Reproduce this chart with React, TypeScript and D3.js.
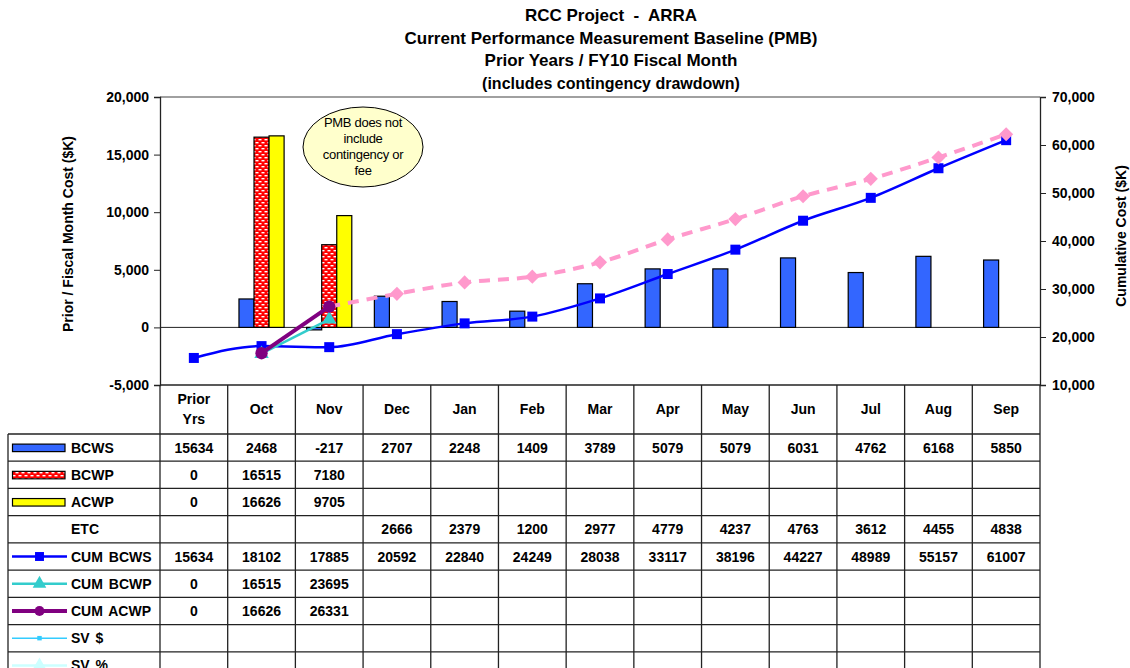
import { useEffect, useRef } from "react";
import * as d3 from "d3";

const categories = ["Prior Yrs", "Oct", "Nov", "Dec", "Jan", "Feb", "Mar", "Apr", "May", "Jun", "Jul", "Aug", "Sep"];
const bcws = [15634, 2468, -217, 2707, 2248, 1409, 3789, 5079, 5079, 6031, 4762, 6168, 5850];
const bcwp = [0, 16515, 7180, null, null, null, null, null, null, null, null, null, null];
const acwp = [0, 16626, 9705, null, null, null, null, null, null, null, null, null, null];
const etc = [null, null, null, 2666, 2379, 1200, 2977, 4779, 4237, 4763, 3612, 4455, 4838];
const cumBcws = [15634, 18102, 17885, 20592, 22840, 24249, 28038, 33117, 38196, 44227, 48989, 55157, 61007];
const cumBcwp = [0, 16515, 23695, null, null, null, null, null, null, null, null, null, null];
const cumAcwp = [0, 16626, 26331, null, null, null, null, null, null, null, null, null, null];
const cumEac = [null, null, 26331, 28997, 31376, 32576, 35553, 40332, 44569, 49332, 52944, 57399, 62237];
const svDollar: (number | null)[] = [];
const svPercent: (number | null)[] = [];

const leftTicks = [-5000, 0, 5000, 10000, 15000, 20000];
const rightTicks = [10000, 20000, 30000, 40000, 50000, 60000, 70000];

const titleLines = [
  "RCC Project  -  ARRA",
  "Current Performance Measurement Baseline (PMB)",
  "Prior Years / FY10 Fiscal Month",
  "(includes contingency drawdown)",
];
const calloutLines = ["PMB does not", "include", "contingency or", "fee"];

const tableRows = [
  { label: "BCWS", values: bcws },
  { label: "BCWP", values: bcwp },
  { label: "ACWP", values: acwp },
  { label: "ETC", values: etc },
  { label: "CUM BCWS", values: cumBcws },
  { label: "CUM BCWP", values: cumBcwp },
  { label: "CUM ACWP", values: cumAcwp },
  { label: "SV $", values: svDollar },
  { label: "SV %", values: svPercent },
];

const W = 1130;
const H = 668;
const FONT = "Arial, 'Liberation Sans', sans-serif";

export default function App() {
  const ref = useRef<SVGSVGElement>(null);

  useEffect(() => {
    if (!ref.current) return;
    const svg = d3.select(ref.current);
    svg.selectAll("*").remove();

    const left = 160, right = 1040, top = 97, bottom = 385;
    const x = d3.scaleBand<string>().domain(categories).range([left, right]);
    const bw = x.bandwidth();
    const xs = d3.scaleBand<string>().domain(["BCWS", "BCWP", "ACWP"]).range([bw / 6, (bw * 5) / 6]);
    const yL = d3.scaleLinear().domain([-5000, 20000]).range([bottom, top]);
    const yR = d3.scaleLinear().domain([10000, 70000]).range([bottom, top]);
    const cx = (i: number) => (x(categories[i]) as number) + bw / 2;
    const fmt = d3.formatLocale({ decimal: ".", thousands: ",", grouping: [3], currency: ["$", ""], minus: "-" }).format(",");

    // pattern for BCWP
    const defs = svg.append("defs");
    const pat = defs.append("pattern").attr("id", "bcwpPat").attr("patternUnits", "userSpaceOnUse")
      .attr("width", 6).attr("height", 6);
    pat.append("rect").attr("width", 6).attr("height", 6).attr("fill", "#FF0000");
    pat.append("rect").attr("x", 0.5).attr("y", 1).attr("width", 3).attr("height", 1.4).attr("fill", "#fff");
    pat.append("rect").attr("x", 3.5).attr("y", 4).attr("width", 2.5).attr("height", 1.4).attr("fill", "#fff");
    pat.append("rect").attr("x", 0).attr("y", 4).attr("width", 0.5).attr("height", 1.4).attr("fill", "#fff");

    // title
    svg.append("g").selectAll("text").data(titleLines).join("text")
      .attr("x", 611).attr("y", (_, i) => 21 + i * 22.7)
      .attr("text-anchor", "middle")
      .style("font-family", FONT).style("font-weight", "bold").style("white-space", "pre")
      .style("font-size", (_, i) => (i === 3 ? "16px" : "17px"))
      .text((d) => d);

    // plot frame
    svg.append("line").attr("x1", left).attr("x2", right).attr("y1", top).attr("y2", top)
      .attr("stroke", "#808080").attr("stroke-width", 1.5);
    svg.append("line").attr("x1", left).attr("x2", right).attr("y1", yL(0)).attr("y2", yL(0))
      .attr("stroke", "#222").attr("stroke-width", 1);

    // axes
    const axL = svg.append("g").attr("transform", `translate(${left},0)`)
      .call(d3.axisLeft(yL).tickValues(leftTicks).tickFormat((v) => fmt(Number(v))).tickSize(6).tickPadding(5));
    const axR = svg.append("g").attr("transform", `translate(${right},0)`)
      .call(d3.axisRight(yR).tickValues(rightTicks).tickFormat((v) => fmt(Number(v))).tickSize(6).tickPadding(6));
    [axL, axR].forEach((g) => {
      g.select(".domain").attr("stroke", "#222").attr("stroke-width", 1.3);
      g.selectAll(".tick line").attr("stroke", "#222");
      g.selectAll("text").style("font-family", FONT).style("font-weight", "bold")
        .style("font-size", "14px").attr("fill", "#000");
    });

    svg.append("text").attr("transform", `translate(73,234) rotate(-90)`)
      .attr("text-anchor", "middle").style("font-family", FONT).style("font-weight", "bold")
      .style("font-size", "14px").text("Prior / Fiscal Month Cost ($K)");
    svg.append("text").attr("transform", `translate(1126,236) rotate(-90)`)
      .attr("text-anchor", "middle").style("font-family", FONT).style("font-weight", "bold")
      .style("font-size", "14px").text("Cumulative Cost ($K)");

    // bars (Prior Yrs not plotted on the monthly axis)
    const barSeries = [
      { key: "BCWS", values: bcws, fill: "#3366FF" },
      { key: "BCWP", values: bcwp, fill: "url(#bcwpPat)" },
      { key: "ACWP", values: acwp, fill: "#FFFF00" },
    ];
    barSeries.forEach((s) => {
      const pts = s.values.map((v, i) => ({ v, i })).filter((d) => d.i > 0 && d.v != null) as { v: number; i: number }[];
      svg.append("g").selectAll("rect").data(pts).join("rect")
        .attr("x", (d) => (x(categories[d.i]) as number) + (xs(s.key) as number))
        .attr("width", xs.bandwidth())
        .attr("y", (d) => (d.v >= 0 ? yL(d.v) : yL(0)))
        .attr("height", (d) => Math.abs(yL(d.v) - yL(0)))
        .attr("fill", s.fill).attr("stroke", "#000").attr("stroke-width", 1.2);
    });

    // lines
    const lineSeries = [
      { values: cumBcws, color: "#0000FF", width: 2.5, marker: d3.symbolSquare, size: 100, rot: 0, dash: null as string | null, from: 0 },
      { values: cumEac, color: "#FF99CC", width: 4, marker: d3.symbolSquare, size: 100, rot: 45, dash: "11,8", from: 2 },
      { values: cumBcwp, color: "#33CCCC", width: 2.5, marker: d3.symbolTriangle, size: 90, rot: 0, dash: null, from: 1 },
      { values: cumAcwp, color: "#800080", width: 4, marker: d3.symbolCircle, size: 120, rot: 0, dash: null, from: 1 },
    ];
    lineSeries.forEach((s) => {
      const pts = s.values.map((v, i) => ({ v, i })).filter((d) => d.i >= s.from && d.v != null) as { v: number; i: number }[];
      const line = d3.line<{ v: number; i: number }>().x((d) => cx(d.i)).y((d) => yR(d.v)).curve(d3.curveMonotoneX);
      svg.append("path").attr("d", line(pts)).attr("fill", "none").attr("stroke", s.color)
        .attr("stroke-width", s.width).attr("stroke-dasharray", s.dash);
      svg.append("g").selectAll("path").data(pts).join("path")
        .attr("d", d3.symbol(s.marker, s.size)())
        .attr("transform", (d) => `translate(${cx(d.i)},${yR(d.v)}) rotate(${s.rot})`)
        .attr("fill", s.color);
    });

    // callout
    svg.append("ellipse").attr("cx", 363).attr("cy", 147).attr("rx", 60).attr("ry", 40)
      .attr("fill", "#FFFFCC").attr("stroke", "#000").attr("stroke-width", 1);
    svg.append("g").selectAll("text").data(calloutLines).join("text")
      .attr("x", 363).attr("y", (_, i) => 126.5 + i * 16.3).attr("text-anchor", "middle")
      .style("font-family", FONT).style("font-size", "13px").style("letter-spacing", "-0.3px").text((d) => d);

    // data table
    const rowY = d3.scaleLinear().domain([0, 9]).range([434, 679]);
    const tbl = svg.append("g");
    const boundaries = categories.map((c) => x(c) as number).concat([right]);
    tbl.selectAll("line.v").data(boundaries).join("line").attr("class", "v")
      .attr("x1", (d) => d).attr("x2", (d) => d).attr("y1", bottom).attr("y2", H)
      .attr("stroke", "#222").attr("stroke-width", 1.3);
    tbl.append("line").attr("x1", 8).attr("x2", 8).attr("y1", rowY(0)).attr("y2", H)
      .attr("stroke", "#222").attr("stroke-width", 1.3);
    tbl.append("line").attr("x1", left).attr("x2", right).attr("y1", bottom).attr("y2", bottom)
      .attr("stroke", "#222").attr("stroke-width", 1.3);
    tbl.selectAll("line.h").data(d3.range(0, 9)).join("line").attr("class", "h")
      .attr("x1", 8).attr("x2", right).attr("y1", (d) => rowY(d)).attr("y2", (d) => rowY(d))
      .attr("stroke", "#222").attr("stroke-width", 1.3);

    // header
    categories.forEach((c, i) => {
      const parts = c.split(" ");
      const t = tbl.append("text").attr("text-anchor", "middle").style("font-family", FONT)
        .style("font-weight", "bold").style("font-size", "14px");
      if (parts.length === 2) {
        t.append("tspan").attr("x", cx(i)).attr("y", 404).text(parts[0]);
        t.append("tspan").attr("x", cx(i)).attr("y", 424).text(parts[1]);
      } else {
        t.attr("x", cx(i)).attr("y", 414).text(c);
      }
    });

    // rows
    tableRows.forEach((r, ri) => {
      const yc = (rowY(ri) + rowY(ri + 1)) / 2;
      tbl.append("text").attr("x", 71).attr("y", yc + 5).style("font-family", FONT)
        .style("font-weight", "bold").style("font-size", "14px").style("word-spacing", "2px").text(r.label);
      r.values.forEach((v, i) => {
        if (v == null) return;
        tbl.append("text").attr("x", cx(i)).attr("y", yc + 5).attr("text-anchor", "middle")
          .style("font-family", FONT).style("font-weight", "bold").style("font-size", "14px").text(String(v));
      });
    });

    // legend keys
    const keyG = svg.append("g");
    const rowC = (ri: number) => (rowY(ri) + rowY(ri + 1)) / 2;
    const rectKeys = [
      { ri: 0, fill: "#3366FF" },
      { ri: 1, fill: "url(#bcwpPat)" },
      { ri: 2, fill: "#FFFF00" },
    ];
    rectKeys.forEach((k) => {
      keyG.append("rect").attr("x", 12.5).attr("y", rowC(k.ri) - 3.5).attr("width", 52.5).attr("height", 7.5)
        .attr("fill", k.fill).attr("stroke", "#000").attr("stroke-width", 1.2);
    });
    const lineKeys = [
      { ri: 4, color: "#0000FF", width: 2.5, marker: d3.symbolSquare, size: 80 },
      { ri: 5, color: "#33CCCC", width: 2.5, marker: d3.symbolTriangle, size: 80 },
      { ri: 6, color: "#800080", width: 4, marker: d3.symbolCircle, size: 80 },
      { ri: 7, color: "#33CCFF", width: 1.5, marker: d3.symbolSquare, size: 20 },
      { ri: 8, color: "#CCFFFF", width: 2.5, marker: d3.symbolTriangle, size: 80 },
    ];
    lineKeys.forEach((k) => {
      keyG.append("line").attr("x1", 12).attr("x2", 67).attr("y1", rowC(k.ri)).attr("y2", rowC(k.ri))
        .attr("stroke", k.color).attr("stroke-width", k.width);
      keyG.append("path").attr("d", d3.symbol(k.marker, k.size)())
        .attr("transform", `translate(39.5,${rowC(k.ri)})`).attr("fill", k.color);
    });
  }, []);

  return (
    <div style={{ position: "absolute", left: 0, top: 0, width: W, height: H, background: "#fff" }}>
      <svg ref={ref} width={W} height={H} style={{ display: "block" }} />
    </div>
  );
}
